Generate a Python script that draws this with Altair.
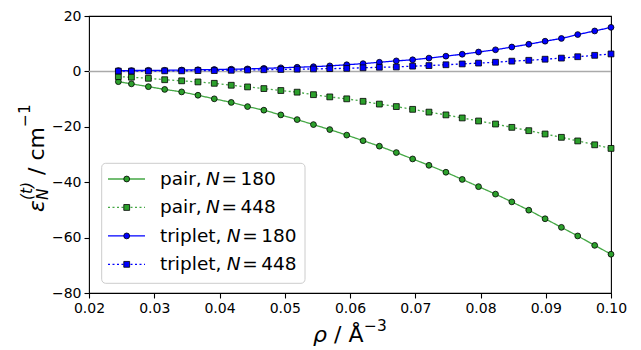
import altair as alt
import pandas as pd

# ---- data ----
rho = [0.0245, 0.0265, 0.0291, 0.0316, 0.0342, 0.0367, 0.0392, 0.0418, 0.0443, 0.0468,
       0.0494, 0.0519, 0.0544, 0.0569, 0.0595, 0.0620, 0.0645, 0.0671, 0.0696, 0.0721,
       0.0747, 0.0772, 0.0797, 0.0823, 0.0848, 0.0874, 0.0899, 0.0924, 0.0949, 0.0975, 0.1000]

pair_180 = [-3.7, -4.5, -5.5, -6.5, -7.4, -8.6, -9.9, -11.2, -12.7, -14.0,
            -15.7, -17.4, -19.2, -21.0, -23.0, -25.0, -27.0, -29.3, -31.6, -33.9,
            -36.4, -39.0, -41.6, -44.3, -47.1, -50.1, -53.2, -56.3, -59.4, -62.8, -66.0]
pair_448 = [-1.9, -2.1, -2.5, -3.0, -3.4, -3.8, -4.3, -5.0, -5.6, -6.2,
            -6.9, -7.5, -8.4, -9.2, -9.9, -10.8, -11.8, -12.7, -13.7, -14.7,
            -15.7, -16.8, -17.9, -19.0, -20.2, -21.4, -22.6, -23.8, -25.1, -26.5, -27.8]
triplet_180 = [0.3, 0.3, 0.4, 0.4, 0.5, 0.6, 0.7, 0.8, 0.9, 1.1,
               1.3, 1.5, 1.7, 2.0, 2.4, 2.8, 3.3, 3.8, 4.2, 4.8,
               5.5, 6.2, 7.0, 7.8, 8.8, 9.8, 10.9, 11.9, 13.3, 14.6, 15.9]
triplet_448 = [0.1, 0.1, 0.1, 0.2, 0.2, 0.3, 0.3, 0.4, 0.5, 0.6,
               0.7, 0.8, 0.9, 1.0, 1.1, 1.3, 1.5, 1.6, 1.9, 2.1,
               2.4, 2.7, 3.0, 3.3, 3.7, 4.0, 4.4, 4.8, 5.3, 5.8, 6.3]

series_names = ["pair180", "pair448", "triplet180", "triplet448"]
legend_prefix = ["pair,", "pair,", "triplet,", "triplet,"]
legend_n = ["180", "448", "180", "448"]
x_ticks = [0.02, 0.03, 0.04, 0.05, 0.06, 0.07, 0.08, 0.09, 0.10]
y_ticks = [-80, -60, -40, -20, 0, 20]

# ---- styles ----
line_colors = ["#45a845", "#45a845", "#0000ff", "#0000ff"]
fill_colors = ["#2ca02c", "#2ca02c", "#0000ff", "#0000ff"]
dashes = [[1, 0], [2, 2.5], [1, 0], [2, 2.5]]
shapes = ["circle", "square", "circle", "square"]
FONT = "DejaVu Sans"

rows = []
for name, vals in zip(series_names, [pair_180, pair_448, triplet_180, triplet_448]):
    for xv, yv in zip(rho, vals):
        rows.append({"rho": xv, "eps": yv, "series": name})
df = pd.DataFrame(rows)

leg = pd.DataFrame({
    "series": series_names,
    "prefix": legend_prefix,
    "nval": legend_n,
    "row": [0, 1, 2, 3],
    "extra": [0, 0, 1, 1],
})

stroke_scale = alt.Scale(domain=series_names, range=line_colors)
fill_scale = alt.Scale(domain=series_names, range=fill_colors)
dash_scale = alt.Scale(domain=series_names, range=dashes)
shape_scale = alt.Scale(domain=series_names, range=shapes)

X = alt.X("rho:Q", scale=alt.Scale(domain=[0.02, 0.10], nice=False, zero=False),
          axis=alt.Axis(values=x_ticks, format=".2f", title=None, labelFlush=False))
Y = alt.Y("eps:Q", scale=alt.Scale(domain=[-80, 20], nice=False, zero=False),
          axis=alt.Axis(values=y_ticks, format="d", title=None, labelFlush=False))

zero = alt.Chart(pd.DataFrame({"eps": [0]})).mark_rule(
    color="#aaaaaa", strokeWidth=1.5).encode(y=alt.Y("eps:Q"))

lines = alt.Chart(df).mark_line(strokeWidth=1.3).encode(
    x=X, y=Y,
    stroke=alt.Stroke("series:N", scale=stroke_scale, legend=None),
    strokeDash=alt.StrokeDash("series:N", scale=dash_scale, legend=None),
    detail="series:N",
)

points = alt.Chart(df).mark_point(filled=True, size=34, stroke="black", strokeWidth=0.8, opacity=1).encode(
    x=X, y=Y,
    fill=alt.Fill("series:N", scale=fill_scale, legend=None),
    shape=alt.Shape("series:N", scale=shape_scale, legend=None),
)

# ---- legend (manual, to allow italic N) ----
one = pd.DataFrame({"a": [0]})
leg_box = alt.Chart(one).mark_rect(
    fill="white", fillOpacity=0.8, stroke="#cccccc", strokeWidth=1, cornerRadius=4
).encode(x=alt.value(12.7), x2=alt.value(216), y=alt.value(147.3), y2=alt.value(267.3))

legbase = alt.Chart(leg).transform_calculate(
    ly="163 + datum.row * 28.45",
    nx="117 + datum.extra * 20.7",
    ex="132.5 + datum.extra * 20.7",
    vx="151.5 + datum.extra * 20.7",
)
LY = alt.Y("ly:Q", scale=None, axis=None)
leg_lines = legbase.mark_rule(strokeWidth=1.3).encode(
    x=alt.value(19), x2=alt.value(56), y=LY,
    stroke=alt.Stroke("series:N", scale=stroke_scale, legend=None),
    strokeDash=alt.StrokeDash("series:N", scale=dash_scale, legend=None),
)
leg_pts = legbase.mark_point(filled=True, size=34, stroke="black", strokeWidth=0.8, opacity=1).encode(
    x=alt.value(37.7), y=LY,
    fill=alt.Fill("series:N", scale=fill_scale, legend=None),
    shape=alt.Shape("series:N", scale=shape_scale, legend=None),
)
tstyle = dict(font=FONT, fontSize=18.5, color="black", align="left", baseline="middle")
leg_t1 = legbase.mark_text(**tstyle).encode(x=alt.value(71), y=LY, text="prefix:N")
leg_t2 = legbase.mark_text(fontStyle="italic", **tstyle).encode(
    x=alt.X("nx:Q", scale=None, axis=None), y=LY, text=alt.value("N"))
leg_t3 = legbase.mark_text(**tstyle).encode(
    x=alt.X("ex:Q", scale=None, axis=None), y=LY, text=alt.value("="))
leg_t4 = legbase.mark_text(**tstyle).encode(
    x=alt.X("vx:Q", scale=None, axis=None), y=LY, text="nval:N")

# ---- axis titles (manual, for super/subscripts) ----
def txt(s, x, y, size, italic=False, angle=0):
    kw = dict(font=FONT, fontSize=size, color="black", align="left", baseline="alphabetic")
    if italic:
        kw["fontStyle"] = "italic"
    if angle:
        kw["angle"] = angle
    return alt.Chart(one).mark_text(**kw).encode(
        x=alt.value(x), y=alt.value(y), text=alt.value(s))

xt = [
    txt("ρ", 224, 326, 22, italic=True),
    txt("/ Å", 245, 326, 22),
    txt("−3", 275, 315, 15.4),
]
yt = [
    txt("ε", -45, 196, 22, italic=True, angle=270),
    txt("(t)", -57, 184, 15.4, italic=True, angle=270),
    txt("N", -41, 184, 15.4, italic=True, angle=270),
    txt("/ cm", -45, 159, 22, angle=270),
    txt("−1", -59, 111, 15.4, angle=270),
]

chart = alt.layer(
    zero, lines, points, leg_box, leg_lines, leg_pts, leg_t1, leg_t2, leg_t3, leg_t4, *xt, *yt
).properties(
    width=522, height=277,
    autosize=alt.AutoSizeParams(type="none"),
    padding={"left": 89, "top": 16, "right": 30, "bottom": 57},
    background="white",
).configure_view(
    stroke="black", strokeWidth=1.1
).configure_axis(
    labelFont=FONT, labelFontSize=14, labelColor="black",
    tickColor="black", tickSize=5, tickWidth=1.1, domain=False, grid=False,
    labelPadding=3, labelFlush=False,
)

chart.save("out.html", embed_options={"renderer": "svg", "actions": False})
